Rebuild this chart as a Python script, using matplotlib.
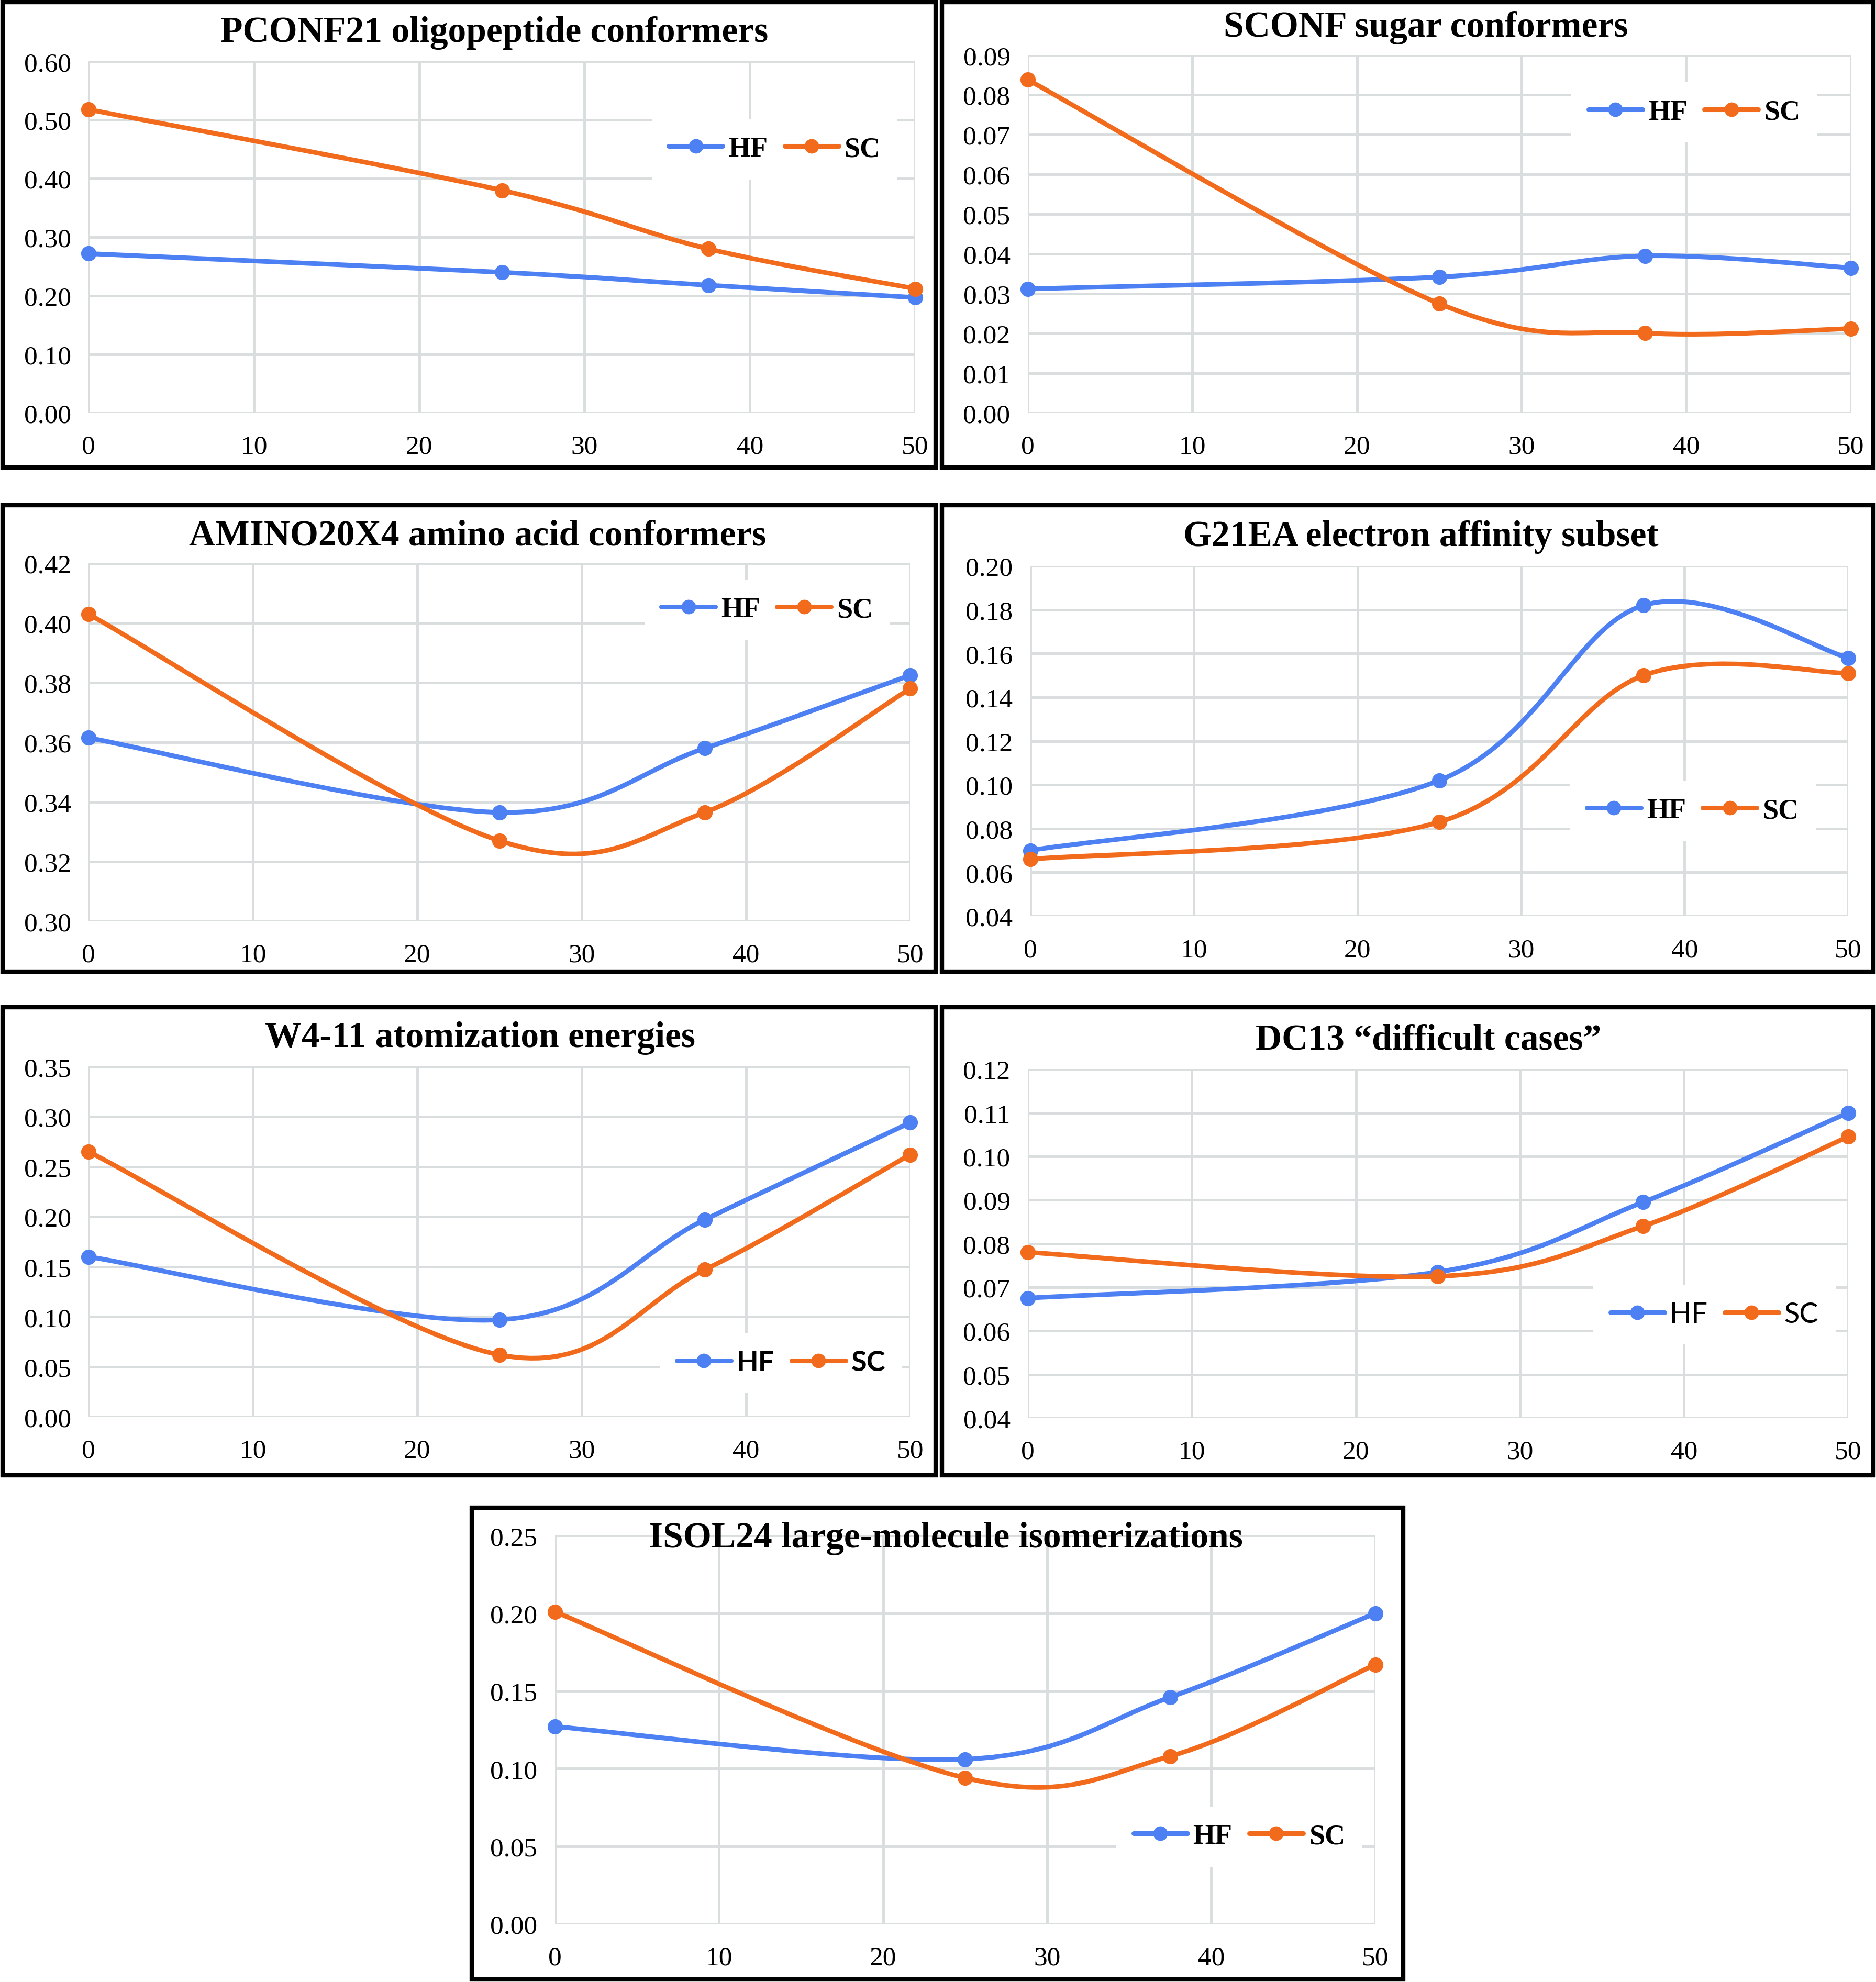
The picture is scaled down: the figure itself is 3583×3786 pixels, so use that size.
import numpy as np
import matplotlib.pyplot as plt
from matplotlib.path import Path
from matplotlib.patches import PathPatch, Rectangle
from matplotlib.lines import Line2D
from matplotlib.ticker import FormatStrFormatter

# x positions of the four data points
x = [0, 25, 37.5, 50]

titles = [
    "PCONF21 oligopeptide conformers",
    "SCONF sugar conformers",
    "AMINO20X4 amino acid conformers",
    "G21EA electron affinity subset",
    "W4-11 atomization energies",
    "DC13 \u201cdifficult cases\u201d",
    "ISOL24 large-molecule isomerizations",
]

hf_pconf = [0.272, 0.240, 0.218, 0.197]
sc_pconf = [0.518, 0.380, 0.280, 0.212]
hf_sconf = [0.0312, 0.0342, 0.0395, 0.0365]
sc_sconf = [0.0838, 0.0275, 0.0201, 0.0212]
hf_amino = [0.3615, 0.3365, 0.358, 0.3825]
sc_amino = [0.403, 0.327, 0.3365, 0.378]
hf_g21ea = [0.070, 0.102, 0.182, 0.158]
sc_g21ea = [0.066, 0.083, 0.150, 0.151]
hf_w411 = [0.160, 0.097, 0.197, 0.294]
sc_w411 = [0.265, 0.062, 0.147, 0.262]
hf_dc13 = [0.0675, 0.0735, 0.0895, 0.110]
sc_dc13 = [0.078, 0.0725, 0.084, 0.1045]
hf_isol = [0.127, 0.106, 0.146, 0.200]
sc_isol = [0.201, 0.094, 0.108, 0.167]

hf_all = [hf_pconf, hf_sconf, hf_amino, hf_g21ea, hf_w411, hf_dc13, hf_isol]
sc_all = [sc_pconf, sc_sconf, sc_amino, sc_g21ea, sc_w411, sc_dc13, sc_isol]

# y axis: (min, max, step)
y_ranges = [(0, 0.60, 0.10), (0, 0.09, 0.01), (0.30, 0.42, 0.02), (0.04, 0.20, 0.02),
            (0, 0.35, 0.05), (0.04, 0.12, 0.01), (0, 0.25, 0.05)]
x_ticks = [0, 10, 20, 30, 40, 50]

# layout in reference px (1484 x 1568 view)
boxes = [(2, 2, 740, 370), (745, 2, 1482, 370), (2, 400, 740, 769), (745, 400, 1482, 769),
         (2, 797, 740, 1167), (745, 797, 1482, 1167), (373, 1193, 1110, 1566)]
plot_areas = [(70, 724, 49, 327), (813, 1464, 44, 327), (70, 720, 446, 729), (815, 1462, 448, 725),
              (70, 720, 844, 1121), (813, 1462, 846, 1122), (439, 1088, 1215, 1522)]
title_pos = [(391, 26), (1128, 22), (378, 424), (1124, 425), (380, 821), (1130, 823), (748, 1217)]
legend_pos = [(0.83, 0.75), (0.81, 0.84), (0.826, 0.87), (0.81, 0.30),
              (0.843, 0.155), (0.837, 0.297), (0.834, 0.225)]
legend_font = [("Liberation Serif", "bold")] * 4 + [("Lato", "bold"), ("Lato", "normal"),
                                                   ("Liberation Serif", "bold")]

W, H = 1484.0, 1568.0
BLUE = "#4D80F2"
ORANGE = "#F26B1D"
GRID = "#D9DDDD"


def smooth_path(xs, ys):
    # Excel-like smoothed line: Catmull-Rom converted to cubic Bezier
    pts = np.column_stack([xs, ys]).astype(float)
    n = len(pts)
    verts = [pts[0]]
    codes = [Path.MOVETO]
    for i in range(n - 1):
        p0 = pts[i - 1] if i > 0 else pts[i]
        p1 = pts[i]
        p2 = pts[i + 1]
        p3 = pts[i + 2] if i + 2 < n else pts[i + 1]
        verts += [p1 + (p2 - p0) / 6, p2 - (p3 - p1) / 6, p2]
        codes += [Path.CURVE4] * 3
    return Path(verts, codes)


plt.rcParams['font.family'] = ['Liberation Serif', 'DejaVu Serif']
fig = plt.figure(figsize=(35.83, 37.87), dpi=100)

for k in range(7):
    bl, bt, br, bb = boxes[k]
    fig.patches.append(Rectangle((bl / W, 1 - bb / H), (br - bl) / W, (bb - bt) / H,
                                 transform=fig.transFigure, fill=False,
                                 edgecolor="black", linewidth=6))
    x0, x1, yt, yb = plot_areas[k]
    ax = fig.add_axes([x0 / W, 1 - yb / H, (x1 - x0) / W, (yb - yt) / H])
    ymin, ymax, ystep = y_ranges[k]
    ax.set_xlim(0, 50)
    ax.set_ylim(ymin, ymax)
    ax.set_xticks(x_ticks)
    ax.set_yticks(np.arange(ymin, ymax + ystep / 2, ystep))
    ax.yaxis.set_major_formatter(FormatStrFormatter("%.2f"))
    ax.grid(True, color=GRID, linewidth=3.5)
    ax.set_axisbelow(True)
    for s in ax.spines.values():
        s.set_visible(False)
    ax.tick_params(length=0, labelsize=37)
    ax.tick_params(axis="y", pad=24)
    ax.tick_params(axis="x", pad=30)

    for ys, col in [(hf_all[k], BLUE), (sc_all[k], ORANGE)]:
        ax.add_patch(PathPatch(smooth_path(x, ys), fill=False, edgecolor=col,
                               linewidth=6.5, capstyle="round", zorder=3))
        ax.plot(x, ys, linestyle="none", marker="o", markersize=20, color=col,
                zorder=4, clip_on=False)

    handles = [Line2D([], [], color=BLUE, lw=6.5, marker="o", ms=19, solid_capstyle="round"),
               Line2D([], [], color=ORANGE, lw=6.5, marker="o", ms=19, solid_capstyle="round")]
    fam, wt = legend_font[k]
    leg = ax.legend(handles, ["HF", "SC"], loc="center", bbox_to_anchor=legend_pos[k],
                    ncol=2, frameon=True, fancybox=False, handlelength=1.9,
                    columnspacing=0.6, handletextpad=0.2, borderpad=0.6,
                    prop={"family": fam, "weight": wt, "size": 39})
    leg.get_frame().set_edgecolor("none")
    leg.get_frame().set_facecolor("white")
    leg.get_frame().set_alpha(1)

    tx, ty = title_pos[k]
    fig.text(tx / W, 1 - ty / H, titles[k], ha="center", va="center",
             fontsize=50, fontweight="bold")

fig.savefig("out.png", dpi=100, facecolor="white")
